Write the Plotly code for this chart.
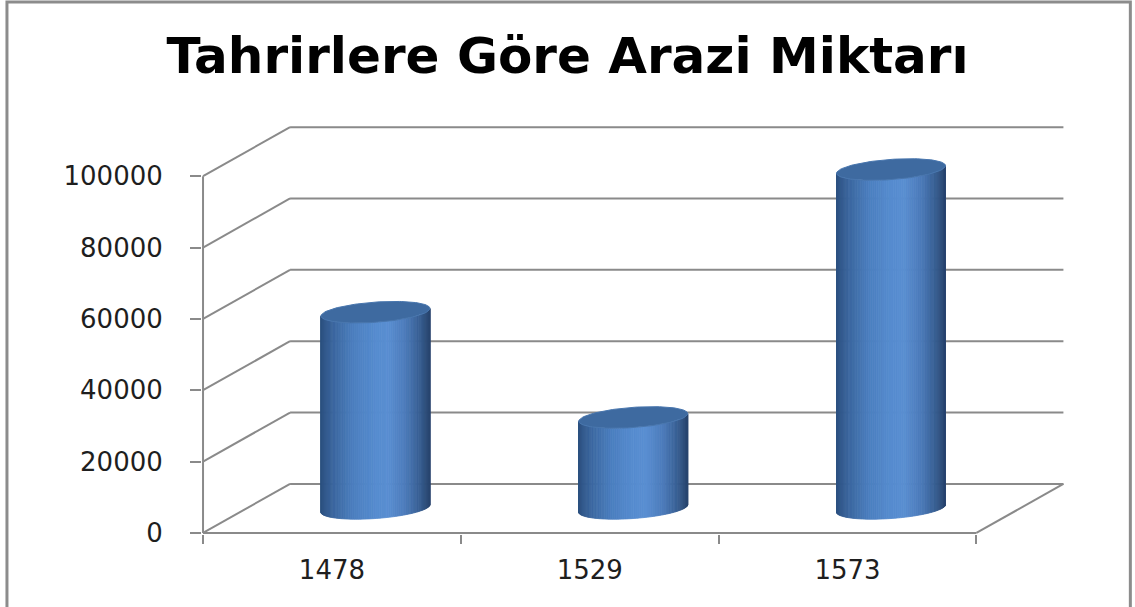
import numpy as np
import plotly.graph_objects as go

# ---------------- data ----------------
years = ["1478", "1529", "1573"]
values = [55000, 25500, 95000]
y_tick_values = [0, 20000, 40000, 60000, 80000, 100000]
y_tick_labels = ["0", "20000", "40000", "60000", "80000", "100000"]
title_text = "Tahrirlere Göre Arazi Miktarı"

# ---------------- geometry / style ----------------
W, H = 1135, 607
PX_CAT = 257.7          # pixels per category unit
PX_VAL = 0.003565       # pixels per value unit
DX = 87 / PX_CAT        # depth offset (category units)
DY = 49 / PX_VAL        # depth offset (value units)
R = 51 / PX_CAT         # cylinder radius along x
S = 0.22                # cylinder depth radius (fraction of depth)
FRONT_LEFT_PX, FRONT_ZERO_PX = 203, 533

GRID = "#8a8a8a"
xlo, xhi = -0.5 - 0.004, 2.5 + DX + 0.01
ylo, yhi = -300, 100000 + DY + 600
plot_w = (xhi - xlo) * PX_CAT
plot_h = (yhi - ylo) * PX_VAL
m_l = FRONT_LEFT_PX - (-0.5 - xlo) * PX_CAT
m_b = H - FRONT_ZERO_PX - (0 - ylo) * PX_VAL
m_r = W - m_l - plot_w
m_t = H - m_b - plot_h

fig = go.Figure()
shapes = []


def line(x0, y0, x1, y1, w=2):
    shapes.append(dict(type="line", xref="x", yref="y", x0=x0, y0=y0, x1=x1, y1=y1,
                       line=dict(color=GRID, width=w), layer="below"))


# back wall gridlines and left wall diagonals
for v in y_tick_values:
    line(-0.5 + DX, v + DY, len(years) - 0.5 + DX, v + DY)
    line(-0.5, v, -0.5 + DX, v + DY)
# left axis line
line(-0.5, 0, -0.5, 100000)
# floor front edge and right edge
line(-0.5, 0, len(years) - 0.5, 0)
line(len(years) - 0.5, 0, len(years) - 0.5 + DX, DY)

# ---------------- cylinders ----------------
stops_u = [0.0, 0.12, 0.3, 0.5, 0.62, 0.78, 0.9, 1.0]
stops_c = [(44, 80, 128), (60, 104, 160), (76, 127, 192), (86, 140, 207),
           (90, 143, 210), (76, 123, 186), (57, 97, 150), (41, 69, 110)]


def shade(u):
    r = np.interp(u, stops_u, [c[0] for c in stops_c])
    g = np.interp(u, stops_u, [c[1] for c in stops_c])
    b = np.interp(u, stops_u, [c[2] for c in stops_c])
    return f"rgb({int(r)},{int(g)},{int(b)})"


th0 = np.arctan2(S * DX, R)
xext = np.hypot(R, S * DX)


def ell(cx, cy, th):
    th = np.asarray(th)
    return cx + R * np.cos(th) + S * DX * np.sin(th), cy + S * DY * np.sin(th)


N = 80
for i, v in enumerate(values):
    cx = i + DX / 2
    base = DY / 2
    top = v + DY / 2
    ths = np.linspace(th0 + np.pi, th0 + 2 * np.pi, N + 1)
    for k in range(N):
        a, b = ths[k], ths[k + 1]
        bx, by = ell(cx, base, [a, b])
        tx, ty = ell(cx, top, [b, a])
        xs = list(bx) + list(tx) + [bx[0]]
        ys = list(by) + list(ty) + [by[0]]
        umid = ((bx[0] + bx[1]) / 2 - (cx - xext)) / (2 * xext)
        col = shade(umid)
        fig.add_trace(go.Scatter(x=xs, y=ys, mode="lines", fill="toself",
                                 fillcolor=col, line=dict(color=col, width=0.8),
                                 hoverinfo="skip", showlegend=False))
    # top face
    tt = np.linspace(0, 2 * np.pi, 120)
    ex, ey = ell(cx, top, tt)
    fig.add_trace(go.Scatter(x=ex, y=ey, mode="lines", fill="toself",
                             fillcolor="rgb(62,106,160)",
                             line=dict(color="rgb(72,118,174)", width=1),
                             hoverinfo="text", text=f"{years[i]}: {v}",
                             showlegend=False))

# outer frame (paper coords computed from pixels)
def px_to_paper_x(px):
    return (px - m_l) / plot_w


def px_to_paper_y(py):
    return (H - m_b - py) / plot_h


shapes.append(dict(type="rect", xref="paper", yref="paper",
                   x0=px_to_paper_x(7), x1=px_to_paper_x(1130),
                   y0=px_to_paper_y(625), y1=px_to_paper_y(2.5),
                   line=dict(color="#8c8c8c", width=3), fillcolor="rgba(0,0,0,0)",
                   layer="below"))

tick_font = dict(family="DejaVu Sans", size=26, color="#1e1e1e")

fig.update_layout(
    width=W, height=H,
    margin=dict(l=m_l, r=m_r, t=m_t, b=m_b, autoexpand=False),
    paper_bgcolor="white", plot_bgcolor="white",
    shapes=shapes,
    showlegend=False,
    title=dict(text=title_text, x=0.5, xref="container", xanchor="center",
               y=1 - 55 / H, yref="container", yanchor="middle",
               font=dict(family="DejaVu Sans", size=50, color="#000000", weight="bold")),
    xaxis=dict(range=[xlo, xhi], showgrid=False, zeroline=False, showline=False,
               tickmode="array", tickvals=list(range(len(years))), ticktext=years,
               ticks="", tickfont=tick_font, ticklabelstandoff=18,
               minor=dict(tickmode="array",
                          tickvals=[k - 0.5 for k in range(len(years) + 1)],
                          ticks="outside", ticklen=9, tickwidth=2, tickcolor=GRID,
                          showgrid=False),
               fixedrange=True),
    yaxis=dict(range=[ylo, yhi], showgrid=False, zeroline=False, showline=False,
               tickmode="array", tickvals=y_tick_values, ticktext=y_tick_labels,
               ticks="outside", ticklen=11, tickwidth=2, tickcolor=GRID,
               tickfont=tick_font, ticklabelstandoff=22, fixedrange=True),
)

fig.write_html("out.html", config={"displayModeBar": False},
               post_script="document.body.style.margin='0';")
